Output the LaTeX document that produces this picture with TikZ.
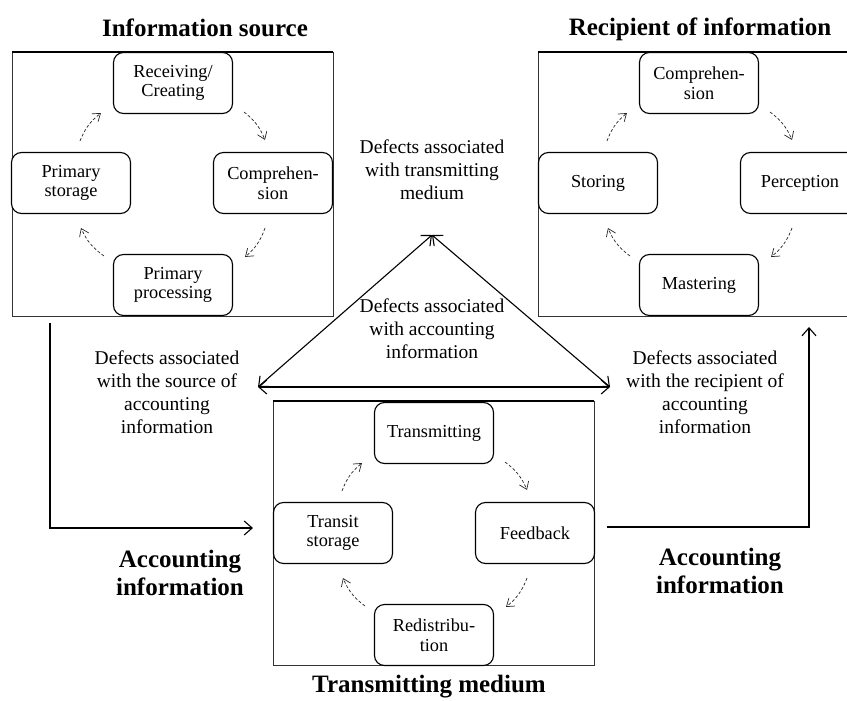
\documentclass[tikz,border=0pt]{standalone}
\usepackage{fontspec}
\setmainfont{Liberation Serif}
\usetikzlibrary{calc,arrows.meta,positioning}

\begin{document}
\begin{tikzpicture}[x=1pt,y=-1pt]

\tikzset{stagenode/.style={draw=black,line width=1.1pt,rounded corners=10pt,fill=white,minimum width=119pt,minimum height=61pt,inner sep=0pt,align=center,font=\fontsize{18.3}{19.5}\selectfont},
framebox/.style={draw=black!80,line width=0.8pt},
titletext/.style={font=\fontsize{25}{28}\selectfont\bfseries,align=center},
defecttext/.style={font=\fontsize{19.5}{23}\selectfont,align=center},
cycarrow/.style={black!85,line width=0.7pt,densely dashed,-{Straight Barb[length=7pt,width=10pt]}},
mainarrow/.style={line width=1.1pt,-{Straight Barb[length=8pt,width=14pt]}},
dblarrow/.style={line width=1.1pt,{Straight Barb[length=8pt,width=14pt]}-{Straight Barb[length=8pt,width=14pt]}}}

\clip (0,0) rectangle (847,701);

% Frames
\foreach \bx/\by in {12/52, 538/52, 273/401} {
  \draw[framebox] (\bx,\by) rectangle ++(321,264);
  \draw[line width=1.6pt] (\bx,\by) -- ++(321,0);
}

% Information source
\node[stagenode] (srcT) at (173,83) {Receiving/\\Creating};
\node[stagenode] (srcR) at (273,183) {Comprehen-\\sion};
\node[stagenode] (srcB) at (173,285) {Primary\\processing};
\node[stagenode] (srcL) at (71,183) {Primary\\storage};

% Recipient of information
\node[stagenode] (rcpT) at (699,83) {Comprehen-\\sion};
\node[stagenode] (rcpR) at (800,183) {Perception};
\node[stagenode] (rcpB) at (699,285) {Mastering};
\node[stagenode] (rcpL) at (598,183) {Storing};

% Transmitting medium
\node[stagenode] (medT) at (434,433) {Transmitting};
\node[stagenode] (medR) at (535,533) {Feedback};
\node[stagenode] (medB) at (434,635) {Redistribu-\\tion};
\node[stagenode] (medL) at (333,533) {Transit\\storage};

% Cycles
\foreach \p in {src,rcp,med} {
  \draw[cycarrow] ($(\p T.south east)+(11,-2)$) to[bend left=15] ($(\p R.north)+(-8,-12)$);
  \draw[cycarrow] ($(\p R.south)+(-8,14)$) to[bend left=15] ($(\p B.north east)+(12,3)$);
  \draw[cycarrow] ($(\p B.north west)+(-9,2)$) to[bend left=15] ($(\p L.south)+(10,14)$);
  \draw[cycarrow] ($(\p L.north)+(9,-11)$) to[bend left=15] ($(\p T.south west)+(-12,-1)$);
}

% Titles
\node[titletext,anchor=base] (srcTitle) at (205,37) {Information source};
\node[titletext,anchor=base] (rcpTitle) at (700,36) {Recipient of information};
\node[titletext,anchor=base] (medTitle) at (429,692) {Transmitting medium};
\node[titletext] (accL) at (180,573) {Accounting\\information};
\node[titletext] (accR) at (720,571) {Accounting\\information};

% Defects
\node[defecttext] (defMed) at (432,170) {Defects associated\\with transmitting\\medium};
\node[defecttext] (defAcc) at (432,329) {Defects associated\\with accounting\\information};
\node[defecttext] (defSrc) at (167,392) {Defects associated\\with the source of\\accounting\\information};
\node[defecttext] (defRcp) at (705,392) {Defects associated\\with the recipient of\\accounting\\information};

% Triangle
\coordinate (apex) at (432,235);
\coordinate (cornerL) at (258,387);
\coordinate (cornerR) at (610,387);
\draw[dblarrow] (apex) -- (cornerL);
\draw[dblarrow] (apex) -- (cornerR);
\draw[dblarrow] (cornerL) -- (cornerR);

% Flow of accounting information
\coordinate (srcOut) at (50,323);
\coordinate (medIn) at (253,528);
\coordinate (medOut) at (607,527);
\coordinate (rcpIn) at (809,327);
\draw[mainarrow] (srcOut) |- (medIn);
\draw[mainarrow] (medOut) -| (rcpIn);

\end{tikzpicture}
\end{document}
